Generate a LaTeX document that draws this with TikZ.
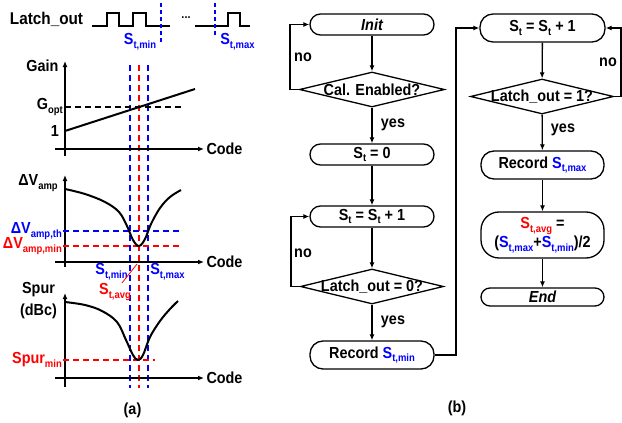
\documentclass[tikz,border=0pt]{standalone}
\usepackage{fontspec}
\setmainfont{Liberation Sans}[FakeStretch=0.9]
\usetikzlibrary{shapes.geometric,arrows.meta}
\definecolor{myblue}{RGB}{0,0,255}
\definecolor{myred}{RGB}{255,0,0}
\newcommand\lo[1]{\raisebox{-0.45ex}{\fontsize{10.5}{12}\selectfont #1}}
\begin{document}
\begin{tikzpicture}[x=1pt,y=-1pt,
  every node/.style={font=\bfseries\fontsize{16}{18}\selectfont, inner sep=0pt},
  term/.style={draw, line width=1.3pt, rounded corners=10.5pt, minimum width=124pt, minimum height=21pt},
  dia/.style={draw, diamond, line width=1.3pt, minimum width=145pt, minimum height=35pt},
  flow/.style={line width=1.3pt, -{Latex[length=6pt,width=5pt]}},
  axis/.style={line width=1.3pt, -{Latex[length=6pt,width=5pt]}},
  curve/.style={line width=2pt},
  bdash/.style={myblue, line width=2pt, dash pattern=on 6pt off 4pt},
  rdash/.style={myred, line width=2pt, dash pattern=on 6pt off 4pt},
  kdash/.style={black, line width=1.6pt, dash pattern=on 6pt off 4pt},
  wave/.style={line width=1.5pt}
]
\useasboundingbox (0,0) rectangle (622,423);

% ---------------- panel (a) ----------------
\node[font=\bfseries\fontsize{17}{18}\selectfont] (latch) at (46.5,19) {Latch\_out};
\draw[wave] (92,26) -- (107,26) -- (107,13) -- (119,13) -- (119,26) -- (133,26) -- (133,13) -- (146,13) -- (146,26) -- (170,26);
\node[anchor=base] (dots) at (186,19) {\fontsize{12}{12}\selectfont ...};
\draw[wave] (195,26) -- (228,26) -- (228,13) -- (240,13) -- (240,26) -- (250,26);
\draw[myblue, line width=1.2pt, dash pattern=on 4pt off 3pt] (161,3) -- (161,44);
\draw[myblue, line width=1.2pt, dash pattern=on 4pt off 3pt] (215,3) -- (215,36);
\node[myblue] (smin0) at (140,42) {S\lo{t,min}};
\node[myblue] (smax0) at (237.5,42) {S\lo{t,max}};

% vertical dashed markers
\draw[bdash] (130,65) -- (130,388);
\draw[rdash] (139,65) -- (139,388);
\draw[bdash] (148,65) -- (148,388);

% Gain plot
\draw[axis] (65,156) -- (65,61);
\draw[axis] (55,149) -- (204,149);
\node (gain) at (42.5,66) {Gain};
\node (code1) at (224.5,149) {Code};
\draw[kdash] (65,107) -- (181,107);
\node[anchor=east] (gopt) at (63,107) {G\lo{opt}};
\node (one) at (55,131) {1};
\draw[curve] (65,131) -- (195,89);

% Delta V plot
\draw[axis] (65,267) -- (65,175);
\draw[axis] (55,262) -- (204,262);
\node (dv) at (38,183) {ΔV\lo{amp}};
\node (code2) at (224.5,262) {Code};
\draw[bdash] (63,231) -- (181,231);
\draw[rdash] (63,246) -- (181,246);
\node[anchor=east, myblue] (dvth) at (62,231) {ΔV\lo{amp,th}};
\node[anchor=east, myred] (dvmin) at (62,246) {ΔV\lo{amp,min}};
\draw[curve] plot[smooth, tension=0.6] coordinates {(65,189) (85,194) (105,202) (119,212) (127,226) (133,240) (139,246) (145,239) (151,224) (160,208) (170,197) (181,190)};
\node[myblue] (smin1) at (111.5,272) {S\lo{t,min}};
\node[myblue] (smax1) at (167.5,272) {S\lo{t,max}};
\node[myred] (savg1) at (115,292) {S\lo{t,avg}};
\draw[myred, line width=0.8pt] (137,264) -- (122,283);

% Spur plot
\draw[axis] (65,387) -- (65,293);
\draw[axis] (55,378) -- (204,378);
\node (spur) at (38.5,290) {Spur};
\node (dbc) at (38.5,311) {(dBc)};
\node (code3) at (224.5,378) {Code};
\draw[rdash] (63,360) -- (155,360);
\node[anchor=east, myred] (spmin) at (62,360) {Spur\lo{min}};
\draw[curve] plot[smooth, tension=0.6] coordinates {(65,302) (85,305) (102,311) (117,322) (126,340) (133,355) (138,360) (143,355) (150,337) (160,321) (170,309) (178,301)};
\node (capa) at (132.5,410) {(a)};

% ---------------- panel (b) ----------------
\node[term] (init) at (372,24.5) {\itshape Init};
\node[dia] (d1) at (372,89.5) {\makebox[0pt]{Cal. Enabled?}};
\node[term] (s0) at (372,154.5) {S\lo{t} = 0};
\node[term] (sinc) at (372,216.5) {S\lo{t} = S\lo{t} + 1};
\node[dia, minimum width=143pt] (d2) at (372,286.5) {\makebox[0pt]{Latch\_out = 0?}};
\node[term, minimum height=28pt, rounded corners=13pt] (rmin) at (372,355) {Record \textcolor{myblue}{S\lo{t,min}}};

\node[term, minimum width=125pt, minimum height=28pt, rounded corners=13pt] (sinc2) at (542.5,28) {S\lo{t} = S\lo{t} + 1};
\node[dia, minimum width=143pt] (d3) at (542,96.5) {\makebox[0pt]{Latch\_out = 1?}};
\node[term, minimum width=123pt, minimum height=28pt, rounded corners=13pt] (rmax) at (542.5,165) {Record \textcolor{myblue}{S\lo{t,max}}};
\node[term, minimum width=123pt, minimum height=46pt, rounded corners=18pt, align=center] (savg) at (542.5,235) {\textcolor{myred}{S\lo{t,avg}} =\\[1pt] (\textcolor{myblue}{S\lo{t,max}}+\textcolor{myblue}{S\lo{t,min}})/2};
\node[term, minimum width=123pt, minimum height=18pt, rounded corners=9pt] (endn) at (542.5,297) {\itshape End};

\draw[flow] (init) -- (d1);
\draw[flow] (d1.west) -- (290,89.5) |- (init.west);
\node (no1) at (303,57) {no};
\draw[flow] (d1) -- (s0);
\node (yes1) at (393,125) {yes};
\draw[flow] (s0) -- (sinc);
\draw[flow] (sinc) -- (d2);
\draw[flow] (d2.west) -- (291,286.5) |- (sinc.west);
\node (no2) at (303,253) {no};
\draw[flow] (d2) -- (rmin);
\node (yes2) at (393,322) {yes};
\draw[flow] (rmin.east) -| (456,28) -- (sinc2.west);

\draw[flow] (sinc2) -- (d3);
\draw[flow] (d3.east) -- (621,96.5) |- (sinc2.east);
\node (no3) at (608,62) {no};
\draw[flow] (d3) -- (rmax);
\node (yes3) at (563,130) {yes};
\draw[flow] (rmax) -- (savg);
\draw[flow] (savg) -- (endn);
\node (capb) at (457,408) {(b)};
\end{tikzpicture}
\end{document}
